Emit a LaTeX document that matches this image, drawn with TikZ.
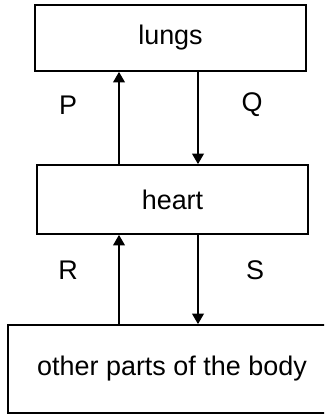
\documentclass[tikz,border=0pt]{standalone}
\usepackage{fontspec}
\setmainfont{Liberation Sans}
\usetikzlibrary{arrows.meta,positioning}
\tikzset{
  organ/.style={draw,line width=1.5pt,inner sep=0pt,minimum width=8.13cm,font=\fontsize{23}{27}\selectfont},
  flow/.style={line width=1.5pt,-{Triangle[width=10pt,length=9pt]}},
  lbl/.style={font=\fontsize{23}{27}\selectfont}
}
\begin{document}
\begin{tikzpicture}[x=0.03cm,y=-0.03cm]
		\useasboundingbox (0,0) rectangle (324,414);
		\clip (0,0) rectangle (324,414);
		\node[organ,minimum height=1.98cm] (lungs) at (170.5,38) {lungs};
		\node[organ,minimum height=2.07cm] (heart) at (172.5,199.5) {heart};
		\node[organ,minimum width=9.84cm,minimum height=2.64cm] (body) at (172,369) {other parts of the body};
		\coordinate (up) at (119,0);
		\coordinate (down) at (198,0);
		\node[lbl] (P) at (68,105) {P};
		\node[lbl] (Q) at (252,105) {Q};
		\node[lbl] (R) at (68,270) {R};
		\node[lbl] (S) at (255,270) {S};
		\draw[flow] (heart.north -| up)--(lungs.south -| up);
		\draw[flow] (lungs.south -| down)--(heart.north -| down);
		\draw[flow] (body.north -| up)--(heart.south -| up);
		\draw[flow] (heart.south -| down)--(body.north -| down);
		\end{tikzpicture}
\end{document}
